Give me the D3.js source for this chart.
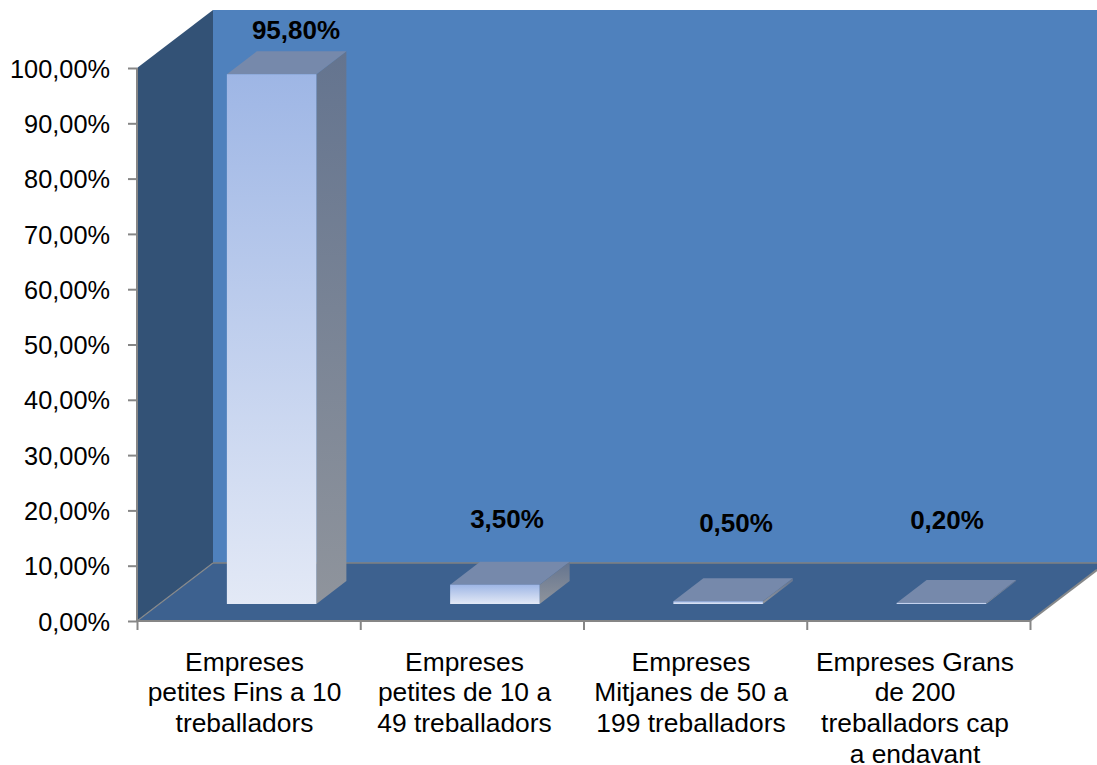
<!DOCTYPE html>
<html><head><meta charset="utf-8"><script src="https://cdn.jsdelivr.net/npm/d3@7"></script>
<style>html,body{margin:0;padding:0;background:#fff}svg{display:block}text{font-family:"Liberation Sans",Arial,sans-serif}</style></head>
<body><svg id="c" width="1097" height="765"></svg>
<script>
const categories=[["Empreses","petites Fins a 10","treballadors"],["Empreses","petites de 10 a","49 treballadors"],["Empreses","Mitjanes de 50 a","199 treballadors"],["Empreses Grans","de 200","treballadors cap","a endavant"]];
const values=[95.8,3.5,0.5,0.2];
const valueLabels=["95,80%","3,50%","0,50%","0,20%"];
const yTicks=[0,10,20,30,40,50,60,70,80,90,100];
const labelPos=[[296,38.5],[507,527.5],[736,532],[947,529]];
const W=1097,H=765,x0=137,x1=1030,yB=621,yT=68,dx=76,dy=58;
const svg=d3.select("#c");
const x=d3.scaleBand().domain(d3.range(4)).range([x0,x1]).paddingInner(0).paddingOuter(0);
const y=d3.scaleLinear().domain([0,100]).range([yB,yT]);
const defs=svg.append("defs");
const poly=(pts,fill,extra={})=>{const p=svg.append("polygon").attr("points",pts.map(d=>d.join(",")).join(" ")).attr("fill",fill);for(const k in extra)p.attr(k,extra[k]);return p;};
// back wall, side wall, floor
poly([[x0+dx,yT-dy],[W,yT-dy],[W,yB-dy],[x0+dx,yB-dy]],"#4f81bd");
poly([[x0,yT],[x0+dx,yT-dy],[x0+dx,yB-dy],[x0,yB]],"#335276");
poly([[x0,yB],[x1,yB],[W,yB-(W-x1)*dy/dx],[W,yB-dy],[x0+dx,yB-dy]],"#3d618f");
svg.append("line").attr("x1",x0+dx).attr("x2",W).attr("y1",yB-dy).attr("y2",yB-dy).attr("stroke","#7f8080").attr("stroke-width",1.5);
svg.append("line").attr("x1",x0).attr("x2",x0+dx).attr("y1",yB).attr("y2",yB-dy).attr("stroke","#86888a").attr("stroke-width",1.2);
svg.append("line").attr("x1",x1).attr("x2",W).attr("y1",yB).attr("y2",yB-(W-x1)*dy/dx).attr("stroke","#86888a").attr("stroke-width",2);
// bars
const off=23,offY=17,bw=89.5,bdx=30,bdy=23,zeroY=yB-offY;
values.forEach((v,i)=>{
  const bx=x(i)+(x.bandwidth()-bw)/2+off, top=zeroY-(y(0)-y(v));
  const gF=`f${i}`,gS=`s${i}`;
  const a=defs.append("linearGradient").attr("id",gF).attr("gradientUnits","userSpaceOnUse").attr("x1",0).attr("x2",0).attr("y1",top).attr("y2",zeroY);
  a.append("stop").attr("offset",0).attr("stop-color","#9eb6e5");a.append("stop").attr("offset",1).attr("stop-color","#e3e9f6");
  const b=defs.append("linearGradient").attr("id",gS).attr("gradientUnits","userSpaceOnUse").attr("x1",0).attr("x2",0).attr("y1",top-bdy).attr("y2",zeroY);
  b.append("stop").attr("offset",0).attr("stop-color","#64748f");b.append("stop").attr("offset",1).attr("stop-color","#8f949c");
  poly([[bx+bw,top],[bx+bw+bdx,top-bdy],[bx+bw+bdx,zeroY-bdy],[bx+bw,zeroY]],`url(#${gS})`);
  poly([[bx,top],[bx+bdx,top-bdy],[bx+bw+bdx,top-bdy],[bx+bw,top]],"#7689ab");
  svg.append("rect").attr("x",bx).attr("y",top).attr("width",bw).attr("height",Math.max(zeroY-top,0.5)).attr("fill",`url(#${gF})`);
});
// axes
const axis="#868686";
const ya=svg.append("g").attr("transform",`translate(${x0},0)`).call(d3.axisLeft(y).tickValues(yTicks).tickSize(9).tickPadding(18).tickFormat(d=>d3.format(".2f")(d).replace(".",",")+"%"));
ya.selectAll("line,path").attr("stroke",axis).attr("stroke-width",2);
ya.select("path").attr("d",`M0,${yT}V${yB}`);
ya.selectAll("text").attr("font-size",25.33).attr("fill","#000").attr("font-family","Liberation Sans").attr("dy","0.36em");
const xa=svg.append("g").attr("transform",`translate(0,${yB})`).call(d3.axisBottom(d3.scaleLinear().domain([0,4]).range([x0,x1])).tickValues([0,1,2,3,4]).tickSize(9).tickFormat(""));
xa.selectAll("line,path").attr("stroke",axis).attr("stroke-width",2);
xa.select("path").attr("d",`M${x0},0H${x1}`);
// category labels
const cx=[244.5,464.5,691,915];
categories.forEach((lines,i)=>{
  const t=svg.append("text").attr("text-anchor","middle").attr("font-size",26.4).attr("fill","#000");
  lines.forEach((s,j)=>t.append("tspan").attr("x",cx[i]).attr("y",670.5+j*30.7).text(s));
});
valueLabels.forEach((s,i)=>svg.append("text").attr("x",labelPos[i][0]).attr("y",labelPos[i][1]).attr("text-anchor","middle").attr("font-size",26).attr("font-weight","bold").attr("fill","#000").text(s));
</script></body></html>
